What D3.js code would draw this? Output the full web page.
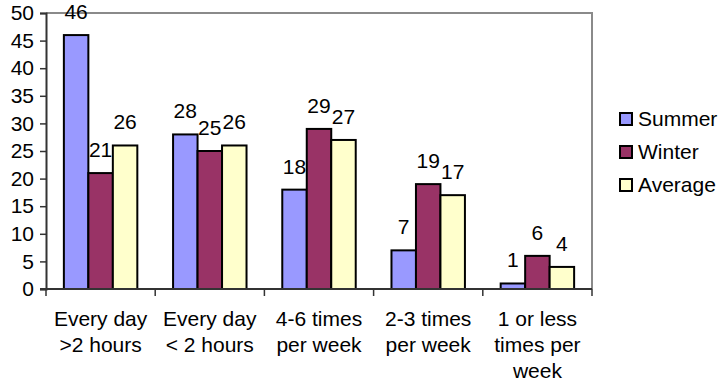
<!DOCTYPE html>
<html>
<head>
<meta charset="utf-8">
<script src="https://cdn.jsdelivr.net/npm/d3@7"></script>
<style>
  html, body { margin: 0; padding: 0; background: #fff; }
  svg text { font-family: Arial, "Liberation Sans", sans-serif; fill: #000; }
</style>
</head>
<body>
<svg id="chart" width="721" height="383"></svg>
<script>
// Frequency categories (each label split into its display lines)
const categories = [
  ["Every day", ">2 hours"],
  ["Every day", "< 2 hours"],
  ["4-6 times", "per week"],
  ["2-3 times", "per week"],
  ["1 or less", "times per", "week"]
];
const seriesNames = ["Summer", "Winter", "Average"];
const summer  = [46, 28, 18, 7, 1];
const winter  = [21, 25, 29, 19, 6];
const average = [26, 26, 27, 17, 4];
const yTicks  = [0, 5, 10, 15, 20, 25, 30, 35, 40, 45, 50];
const colors  = ["#9999FF", "#993366", "#FFFFCC"];

const FONT = 21;
const seriesValues = [summer, winter, average];
const svg = d3.select("#chart");

const plot = { left: 46, right: 592, top: 13, bottom: 289 };
const catIds = categories.map((c, i) => i);

const x0 = d3.scaleBand().domain(catIds).range([plot.left, plot.right]).padding(0);
const x1 = d3.scaleBand().domain(seriesNames).range([0, x0.bandwidth()])
  .paddingInner(0).paddingOuter(0.73);
const y = d3.scaleLinear().domain([0, 50]).range([plot.bottom, plot.top]);

// Plot frame: grey top and right edges
svg.append("path")
  .attr("d", `M${plot.left},${plot.top}H${plot.right}V${plot.bottom}`)
  .attr("fill", "none").attr("stroke", "#8a8a8a").attr("stroke-width", 2);

// Bars
const groups = svg.append("g").selectAll("g")
  .data(catIds).join("g")
  .attr("transform", i => `translate(${x0(i)},0)`);

groups.selectAll("rect")
  .data(i => seriesNames.map((s, k) => ({ s, k, v: seriesValues[k][i] })))
  .join("rect")
  .attr("x", d => x1(d.s))
  .attr("y", d => y(d.v))
  .attr("width", x1.bandwidth())
  .attr("height", d => y(0) - y(d.v))
  .attr("fill", d => colors[d.k])
  .attr("stroke", "#000").attr("stroke-width", 2);

// Value labels above bars
groups.selectAll("text.val")
  .data(i => seriesNames.map((s, k) => ({ s, k, v: seriesValues[k][i] })))
  .join("text").attr("class", "val")
  .attr("x", d => x1(d.s) + x1.bandwidth() / 2)
  .attr("y", d => y(d.v) - 16)
  .attr("text-anchor", "middle")
  .attr("font-size", FONT)
  .text(d => d.v);

// Y axis
const yAxis = d3.axisLeft(y).tickValues(yTicks).tickSize(6).tickPadding(6);
const gy = svg.append("g").attr("transform", `translate(${plot.left},0)`).call(yAxis);
gy.select(".domain").attr("stroke", "#333").attr("stroke-width", 2);
gy.selectAll(".tick line").attr("stroke", "#333").attr("stroke-width", 1.5);
gy.selectAll(".tick text").attr("font-size", FONT).attr("fill", "#000")
  .style("font-family", "Arial, 'Liberation Sans', sans-serif");

// X axis baseline and category divider ticks
const gx = svg.append("g");
gx.append("line")
  .attr("x1", plot.left - 6).attr("x2", plot.right)
  .attr("y1", y(0)).attr("y2", y(0))
  .attr("stroke", "#333").attr("stroke-width", 2);
const dividers = catIds.map(i => x0(i)).concat([x0(catIds[catIds.length - 1]) + x0.bandwidth()]);
gx.selectAll("line.div").data(dividers).join("line").attr("class", "div")
  .attr("x1", d => d).attr("x2", d => d)
  .attr("y1", y(0)).attr("y2", y(0) + 7)
  .attr("stroke", "#333").attr("stroke-width", 1.5);

// Category labels (multi-line)
gx.selectAll("text.cat").data(catIds).join("text").attr("class", "cat")
  .attr("text-anchor", "middle").attr("font-size", FONT)
  .each(function (i) {
    const t = d3.select(this);
    categories[i].forEach((line, j) => {
      t.append("tspan")
        .attr("x", x0(i) + x0.bandwidth() / 2)
        .attr("y", 326 + j * 26)
        .text(line);
    });
  });

// Legend
const legend = svg.append("g").selectAll("g")
  .data(seriesNames).join("g")
  .attr("transform", (d, k) => `translate(620,${119 + k * 33})`);
legend.append("rect")
  .attr("x", 0).attr("y", -6).attr("width", 12).attr("height", 12)
  .attr("fill", (d, k) => colors[k]).attr("stroke", "#000").attr("stroke-width", 2);
legend.append("text")
  .attr("x", 18).attr("y", 7).attr("font-size", FONT)
  .text(d => d);
</script>
</body>
</html>
